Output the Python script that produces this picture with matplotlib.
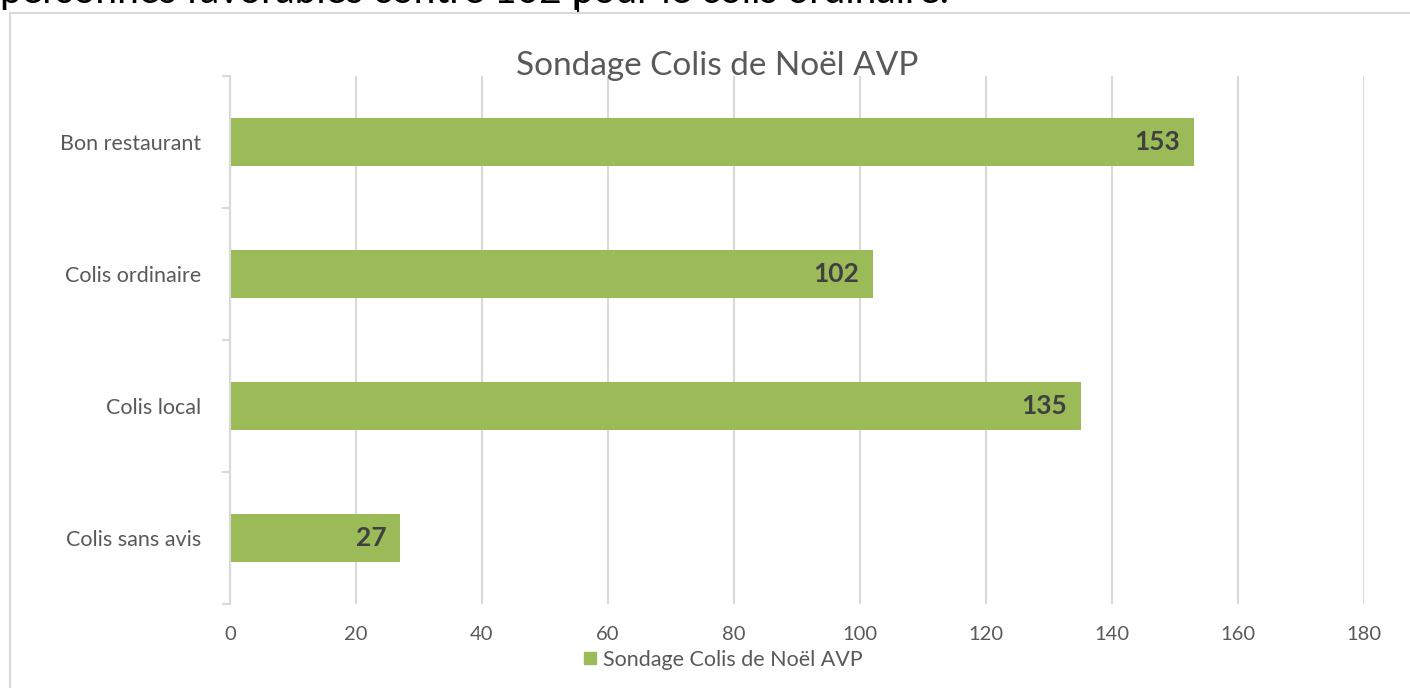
import matplotlib
matplotlib.use('Agg')
import matplotlib.pyplot as plt
from matplotlib.lines import Line2D

# chart data
categories = ['Bon restaurant', 'Colis ordinaire', 'Colis local', 'Colis sans avis']
values = [153, 102, 135, 27]
x_ticks = [0, 20, 40, 60, 80, 100, 120, 140, 160, 180]
series_name = 'Sondage Colis de Noël AVP'
title = 'Sondage Colis de Noël AVP'
top_text = 'personnes favorables contre 102 pour le colis ordinaire.'

bar_color = '#9BBB59'
grid_color = '#D9D9D9'
text_color = '#595959'

plt.rcParams['font.family'] = ['Lato', 'DejaVu Sans']

W, H = 1410, 688
fig = plt.figure(figsize=(W / 100, H / 100), dpi=100)

# document text cut at the top of the screenshot
fig.text(0, 1 - 3 / H, top_text, fontsize=28, color='black', ha='left', va='baseline')
fig.add_artist(Line2D([578 / W, 578 / W], [1, 1 - 11 / H], color='black', lw=1.5))

# chart frame (left and top borders)
fig.add_artist(Line2D([10 / W, 1], [1 - 13 / H, 1 - 13 / H], color=grid_color, lw=1.5))
fig.add_artist(Line2D([10 / W, 10 / W], [1 - 13 / H, 0], color=grid_color, lw=1.5))

ax = fig.add_axes([230 / W, 1 - 604 / H, (1364 - 230) / W, (604 - 76) / H])

ypos = list(range(len(categories)))
bars = ax.barh(ypos, values, height=0.36, color=bar_color, zorder=2)

ax.set_xlim(0, 180)
ax.set_ylim(len(categories) - 0.5, -0.5)

ax.set_xticks(x_ticks)
ax.set_xticklabels([str(t) for t in x_ticks])
ax.tick_params(axis='x', length=0, pad=16, labelsize=14.5, labelcolor=text_color)
ax.xaxis.grid(True, color=grid_color, lw=1.5, zorder=0)

# category ticks on boundaries, labels at centers
ax.set_yticks([i - 0.5 for i in range(len(categories) + 1)])
ax.set_yticklabels([])
ax.tick_params(axis='y', which='major', length=6, width=1.5, color=grid_color)
ax.set_yticks(ypos, minor=True)
ax.set_yticklabels(categories, minor=True)
ax.tick_params(axis='y', which='minor', length=0, pad=21, labelsize=15.5, labelcolor=text_color)

for s in ['top', 'right', 'bottom']:
    ax.spines[s].set_visible(False)
ax.spines['left'].set_color(grid_color)
ax.spines['left'].set_linewidth(1.5)

for b, v in zip(bars, values):
    ax.annotate(str(v), xy=(v, b.get_y() + b.get_height() / 2), xytext=(-10, 0),
                textcoords='offset points', ha='right', va='center',
                fontsize=19, fontweight='bold', color='#404040', zorder=3)

fig.text(717 / W, 1 - 66 / H, title, fontsize=24, color=text_color, ha='center', va='center')

handle = Line2D([], [], marker='s', linestyle='none', markersize=8, color=bar_color)
fig.legend([handle], [series_name], loc='center', bbox_to_anchor=(721 / W, 1 - 660 / H),
           frameon=False, fontsize=15.5, labelcolor=text_color, handletextpad=0.1,
           handlelength=1.0, borderpad=0)

fig.savefig('out.png', dpi=100)
